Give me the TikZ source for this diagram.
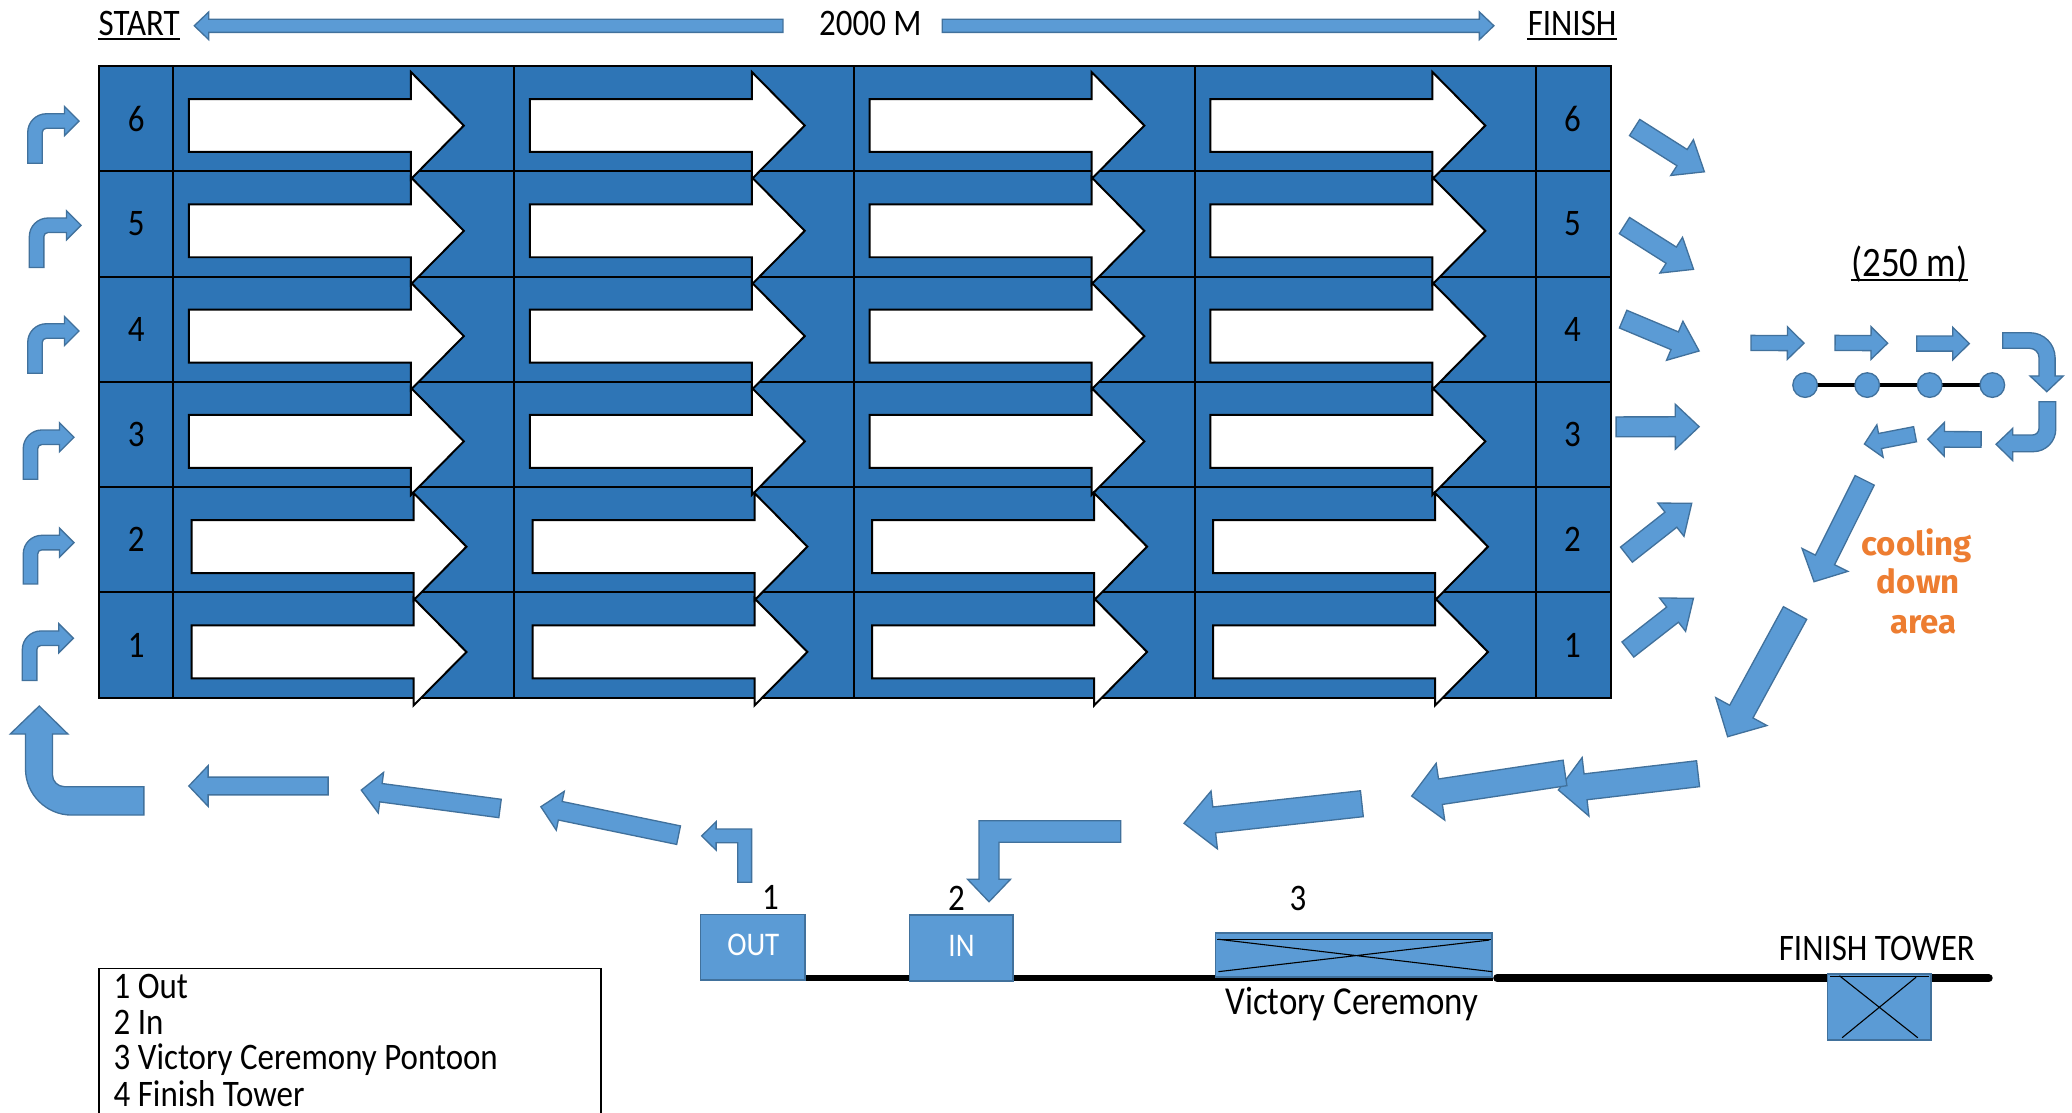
\documentclass[tikz,border=0pt]{standalone}
\usepackage{fontspec}
\setmainfont{Carlito}[FakeStretch=0.88]
\newfontfamily\coolfont{Fira Sans}
\definecolor{gridblue}{HTML}{2E75B6}
\definecolor{arrfill}{HTML}{5B9BD5}
\definecolor{arrline}{HTML}{41719C}
\definecolor{coolorange}{HTML}{ED7D31}
% straight block arrow: tail x,y ; tip x,y ; shaft thickness ; head width ; head length
\newcommand{\barr}[7]{%
  \pgfmathsetmacro{\bxA}{#3-(#1)}%
  \pgfmathsetmacro{\byA}{#4-(#2)}%
  \pgfmathsetmacro{\bLn}{veclen(\bxA,\byA)}%
  \pgfmathsetmacro{\bux}{\bxA/\bLn}%
  \pgfmathsetmacro{\buy}{\byA/\bLn}%
  \pgfmathsetmacro{\bhx}{#3-(#7)*(\bux)}%
  \pgfmathsetmacro{\bhy}{#4-(#7)*(\buy)}%
  \pgfmathsetmacro{\btx}{-1*(#5)/2*(\buy)}%
  \pgfmathsetmacro{\bty}{(#5)/2*(\bux)}%
  \pgfmathsetmacro{\bwx}{-1*(#6)/2*(\buy)}%
  \pgfmathsetmacro{\bwy}{(#6)/2*(\bux)}%
  \draw[blockarr] ({#1+(\btx)},{#2+(\bty)}) -- ({\bhx+(\btx)},{\bhy+(\bty)})
    -- ({\bhx+(\bwx)},{\bhy+(\bwy)}) -- (#3,#4) -- ({\bhx-(\bwx)},{\bhy-(\bwy)})
    -- ({\bhx-(\btx)},{\bhy-(\bty)}) -- ({#1-(\btx)},{#2-(\bty)}) -- cycle;}
% small bent arrow turning right: stem left x, bottom y, tip x, tip y
\newcommand{\turnr}[4]{%
  \draw[blockarr] (#1,#2) -- (#1,{#4+8.5}) .. controls (#1,{#4+0.8}) and ({#1+6.3},{#4-5.5}) .. ({#1+14},{#4-5.5})
    -- ({#3-11},{#4-5.5}) -- ({#3-11},{#4-11}) -- (#3,#4) -- ({#3-11},{#4+11}) -- ({#3-11},{#4+5.5})
    -- ({#1+14},{#4+5.5}) .. controls ({#1+12.3},{#4+5.5}) and ({#1+11},{#4+6.8}) .. ({#1+11},{#4+8.5})
    -- ({#1+11},#2) -- cycle;}
% white lane arrow: cell left x, row top y
\newcommand{\warr}[2]{%
  \draw[whitearr] ({#1+12},{#2+25}) -- ({#1+180},{#2+25}) -- ({#1+180},{#2+4.5}) -- ({#1+220},{#2+45})
    -- ({#1+180},{#2+85.5}) -- ({#1+180},{#2+65}) -- ({#1+12},{#2+65}) -- cycle;}
\begin{document}
\begin{tikzpicture}[x=0.6pt,y=-0.6pt,
  blockarr/.style={fill=arrfill,draw=arrline,line width=0.6pt,line join=miter},
  whitearr/.style={fill=white,draw=black,line width=0.9pt,line join=miter},
  gridline/.style={draw=black,line width=0.9pt},
  txt/.style={inner sep=0pt,font=\fontsize{17}{20}\selectfont},
  smalltxt/.style={inner sep=0pt,font=\fontsize{15}{17}\selectfont,text=white},
  cool/.style={inner sep=0pt,font=\coolfont\bfseries\fontsize{15}{17}\selectfont,text=coolorange},
  pbox/.style={fill=arrfill,draw=arrline,line width=0.8pt}]
\useasboundingbox (0,0) rectangle (1568,842);
\fill[white] (0,0) rectangle (1568,842);

% ---------- top distance line ----------
\node[txt,anchor=base west] (start) at (74.3,26.5) {START};
\draw[line width=0.8pt] ([yshift=-1.8pt]start.base west) -- ([yshift=-1.8pt]start.base east);
\node[txt,anchor=base] (dist) at (658.7,26.5) {2000 M};
\node[txt,anchor=base west] (finish) at (1155.8,26.5) {FINISH};
\draw[line width=0.8pt] ([yshift=-1.8pt]finish.base west) -- ([yshift=-1.8pt]finish.base east);
\barr{592.5}{19.5}{147}{19.5}{10}{21}{11}
\barr{713}{19.5}{1130.5}{19.5}{10}{21}{11}

% ---------- lanes ----------
\fill[gridblue] (75,50) rectangle (1219,528);
\foreach \x in {131,389,646,904,1162} \draw[gridline] (\x,50) -- (\x,528);
\foreach \y in {129.67,209.33,289,368.67,448.33} \draw[gridline] (75,\y) -- (1219,\y);
\draw[gridline] (75,50) rectangle (1219,528);
\foreach \r [count=\i] in {50,129.67,209.33,289,368.67,448.33}{
  \pgfmathtruncatemacro{\lab}{7-\i}
  \pgfmathsetmacro{\sh}{\r>360 ? 2 : 0}
  \pgfmathsetmacro{\rc}{\r+39.8}
  \foreach \cl in {131,389,646,904}{ \warr{\cl+\sh}{\r} }
  \node[txt] (ln\lab) at (103,\rc) {\lab};
  \node[txt] (rn\lab) at (1190,\rc) {\lab};
}

% ---------- start-side bent arrows ----------
\turnr{21}{123.5}{59.8}{91.6}
\turnr{22.2}{202.4}{61.3}{170.5}
\turnr{21}{282.4}{59.8}{250.5}
\turnr{17.6}{362.7}{56}{330.9}
\turnr{17.6}{441.9}{56}{410.6}
\turnr{16.9}{515}{55.5}{483}

% ---------- finish-side arrows ----------
\barr{1237}{96.5}{1289.8}{130}{14.5}{32}{20}
\barr{1229.3}{170.7}{1281.6}{203.8}{14.5}{32}{20}
\barr{1228.3}{241.5}{1285.8}{265.6}{14.5}{32}{20}
\barr{1223}{323}{1285.8}{322.9}{15}{34}{18}
\barr{1230.8}{419.7}{1280.2}{380.9}{14.5}{32}{20}
\barr{1231.9}{491.5}{1281.5}{452.8}{14.5}{32}{20}

% ---------- 250 m cooling loop ----------
\node[txt,anchor=base west,font=\fontsize{19}{22}\selectfont] (d250) at (1400.7,209) {(250 m)};
\draw[line width=0.8pt] ([yshift=-1.8pt]d250.base west) -- ([yshift=-1.8pt]d250.base east);
\barr{1325.1}{259.5}{1365.2}{259.7}{11.4}{24.7}{12.6}
\barr{1388.7}{259.5}{1428.5}{259.7}{11.4}{24.7}{12.6}
\barr{1450.5}{260}{1490.3}{260}{11.4}{24.7}{12.6}
\draw[line width=2.2pt] (1366,291.4) -- (1507.7,291.4);
\foreach \cx in {1366,1413,1460.3,1507.7} \draw[blockarr] (\cx,291.4) circle[radius=9.3];
\draw[blockarr] (1515.6,251.8) -- (1536.2,251.8) .. controls (1546.7,251.8) and (1555.2,260.3) .. (1555.2,270.8)
  -- (1555.2,284.5) -- (1561.4,284.5) -- (1548.9,296.4) -- (1536.2,284.5) -- (1543,284.5) -- (1543,270.6)
  .. controls (1543,266.7) and (1539.9,263.6) .. (1536,263.6) -- (1515.6,263.6) -- cycle;
\draw[blockarr] (1543,304) -- (1555.7,304) -- (1555.7,324.8) .. controls (1555.7,334.2) and (1548.1,341.8) .. (1538.7,341.8)
  -- (1523.2,341.8) -- (1523.2,348.6) -- (1510.5,336.2) -- (1523.2,324.1) -- (1523.2,329.2) -- (1538,329.2)
  .. controls (1540.8,329.2) and (1543,327) .. (1543,324.2) -- cycle;
\barr{1499.2}{332.6}{1458.8}{332.4}{11.8}{25.7}{12.6}
\barr{1449.2}{328.6}{1410.9}{336}{11.6}{25}{12}
\barr{1411.1}{363.5}{1372.8}{440.2}{16.2}{38.7}{18.4}
\barr{1358.4}{463.9}{1307.4}{557.5}{20}{44}{21.6}
\node[cool,anchor=base] (cool1) at (1450.5,420) {cooling};
\node[cool,anchor=base] (cool2) at (1451.7,449) {down};
\node[cool,anchor=base] (cool3) at (1455.5,479.3) {area};

% ---------- return path ----------
\barr{1285}{585.5}{1179.3}{597.8}{19.7}{44.6}{20.7}
\barr{1184.3}{584.9}{1068.3}{602.4}{19.5}{43.4}{22}
\barr{1030.6}{608.2}{896}{623}{19.7}{44}{23}
\draw[blockarr] (848.1,621.1) -- (740.9,621.1) -- (740.9,665.4) -- (732.2,665.4) -- (748.45,682.4)
  -- (764.7,665.4) -- (756,665.4) -- (756,637.4) -- (848.1,637.4) -- cycle;
\draw[blockarr] (558.3,667.7) -- (558.3,637.7) -- (541.9,637.7) -- (541.9,643.3) -- (531,632.6)
  -- (541.9,621.8) -- (541.9,627.4) -- (568.8,627.4) -- (568.8,667.7) -- cycle;
\barr{513.5}{632}{409.3}{610.5}{14.3}{30}{15}
\barr{378.4}{611.8}{273.4}{597.9}{14}{31}{15}
\barr{248.3}{594.8}{142.9}{594.8}{13.4}{30.8}{14.6}
\draw[blockarr] (108.9,616.8) -- (54.3,616.8) .. controls (35,616.8) and (19.3,601.1) .. (19.3,581.8)
  -- (19.3,555.5) -- (7.7,555.5) -- (29.7,534.3) -- (51.4,555.5) -- (39.7,555.5) -- (39.7,586.3)
  .. controls (39.7,591.3) and (43.7,595.3) .. (48.7,595.3) -- (108.9,595.3) -- cycle;

% ---------- pontoons ----------
\draw[line width=2.4pt] (530,740) -- (1130,740);
\draw[line width=3.6pt,line cap=round] (1133,740.2) -- (1505,740.2);
\draw[pbox] (530.1,692) rectangle (609.2,741.6);
\node[smalltxt] (out) at (570.1,715) {OUT};
\draw[pbox] (688.3,692.5) rectangle (766.4,742.2);
\node[smalltxt] (in) at (727.6,715.8) {IN};
\draw[pbox] (919.8,706.3) rectangle (1129.2,739.1);
\draw[line width=0.5pt] (921,710.8) -- (1128,710.8);
\draw[line width=0.5pt] (922,710.8) -- (1129.2,735.3) (922,735.3) -- (1127,711.4);
\draw[pbox] (1382.9,737.1) rectangle (1461.5,787);
\draw[line width=0.5pt] (1385,739) -- (1460,739);
\draw[line width=0.5pt] (1392,738.4) -- (1451.3,785.3) (1394,785.3) -- (1450,739.5);
\node[txt] (lbl1) at (583.1,679.2) {1};
\node[txt] (lbl2) at (723.9,679.5) {2};
\node[txt] (lbl3) at (982.3,680) {3};
\node[txt,anchor=base,font=\fontsize{18}{21}\selectfont] (vc) at (1023,768) {Victory Ceremony};
\node[txt,anchor=base] (ft) at (1420.3,726.5) {FINISH TOWER};

% ---------- legend ----------
\draw[line width=0.7pt] (75,842) -- (75,733) -- (455,733) -- (455,842);
\node[txt,anchor=base west] (leg1) at (85.7,755.5) {1 Out};
\node[txt,anchor=base west] (leg2) at (85.7,782.5) {2 In};
\node[txt,anchor=base west] (leg3) at (85.7,809.7) {3 Victory Ceremony Pontoon};
\node[txt,anchor=base west] (leg4) at (85.7,837) {4 Finish Tower};
\end{tikzpicture}
\end{document}
